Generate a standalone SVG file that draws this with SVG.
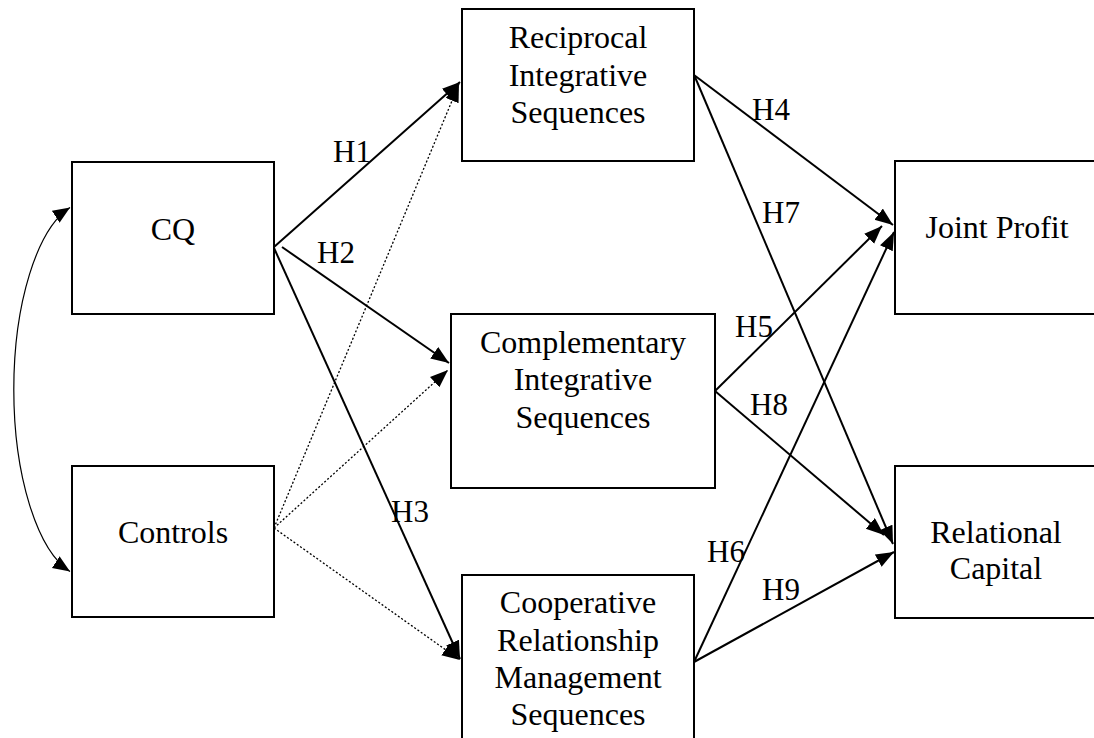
<svg xmlns="http://www.w3.org/2000/svg" width="1094" height="738" viewBox="0 0 1094 738">
<style>
.box{fill:#fff;stroke:#000;stroke-width:2}
.t{font-family:"Liberation Serif","Times New Roman",serif;font-size:32px;fill:#000;text-anchor:middle}
.lb{font-family:"Liberation Serif","Times New Roman",serif;font-size:31px;fill:#000}
.a{fill:none;stroke:#000;stroke-width:2;marker-end:url(#ah)}
.d{fill:none;stroke:#000;stroke-width:1.3;stroke-dasharray:2 2;marker-end:url(#ah)}
.c{fill:none;stroke:#000;stroke-width:1.2;marker-start:url(#ahs);marker-end:url(#ahs)}
</style>
<defs>
<marker id="ah" markerUnits="userSpaceOnUse" markerWidth="20" markerHeight="16" refX="18" refY="7" orient="auto">
<path d="M0,0 L18,7 L0,14 z" fill="#000"/>
</marker>
<marker id="ahs" markerUnits="userSpaceOnUse" markerWidth="20" markerHeight="16" refX="17" refY="7" orient="auto-start-reverse">
<path d="M0,0 L17,7 L0,14 z" fill="#000"/>
</marker>
</defs>
<rect width="1094" height="738" fill="#fff"/>
<g id="connectors">
<path class="c" d="M70,207.5 A75 188 0 0 0 70,571.5"/>
<path class="a" d="M274,247 L460,82"/>
<path class="a" d="M282,247 L449,363"/>
<path class="a" d="M274,248 L460,659"/>
<path class="d" d="M274,528 L459,84"/>
<path class="d" d="M274,528 L448,370"/>
<path class="d" d="M274,528 L460,660"/>
<path class="a" d="M694,75 L893,225"/>
<path class="a" d="M695,77 L893,544"/>
<path class="a" d="M715,391 L882,226"/>
<path class="a" d="M715,391 L884,535"/>
<path class="a" d="M694,662 L894,232"/>
<path class="a" d="M694,662 L894,552"/>
</g>
<g id="labels">
<text class="lb" x="333" y="162">H1</text>
<text class="lb" x="317" y="263">H2</text>
<text class="lb" x="391" y="522">H3</text>
<text class="lb" x="752" y="120">H4</text>
<text class="lb" x="735" y="337">H5</text>
<text class="lb" x="707" y="562">H6</text>
<text class="lb" x="762" y="223">H7</text>
<text class="lb" x="750" y="415">H8</text>
<text class="lb" x="762" y="600">H9</text>
</g>
<g id="cq">
<rect class="box" x="72" y="162" width="202" height="152"/>
<text class="t" x="173" y="240">CQ</text>
</g>
<g id="controls">
<rect class="box" x="72" y="466" width="202" height="151"/>
<text class="t" x="173" y="543">Controls</text>
</g>
<g id="reciprocal">
<rect class="box" x="462" y="9" width="232" height="152"/>
<text class="t" x="578" y="48">Reciprocal</text>
<text class="t" x="578" y="86">Integrative</text>
<text class="t" x="578" y="123">Sequences</text>
</g>
<g id="complementary">
<rect class="box" x="451" y="314" width="264" height="174"/>
<text class="t" x="583" y="353">Complementary</text>
<text class="t" x="583" y="390">Integrative</text>
<text class="t" x="583" y="428">Sequences</text>
</g>
<g id="cooperative">
<rect class="box" x="462" y="575" width="232" height="190"/>
<text class="t" x="578" y="613">Cooperative</text>
<text class="t" x="578" y="651">Relationship</text>
<text class="t" x="578" y="688">Management</text>
<text class="t" x="578" y="725">Sequences</text>
</g>
<g id="joint-profit">
<rect class="box" x="895" y="161" width="215" height="153"/>
<text class="t" x="997" y="238">Joint Profit</text>
</g>
<g id="relational-capital">
<rect class="box" x="895" y="466" width="215" height="152"/>
<text class="t" x="996" y="543">Relational</text>
<text class="t" x="996" y="579">Capital</text>
</g>
</svg>
